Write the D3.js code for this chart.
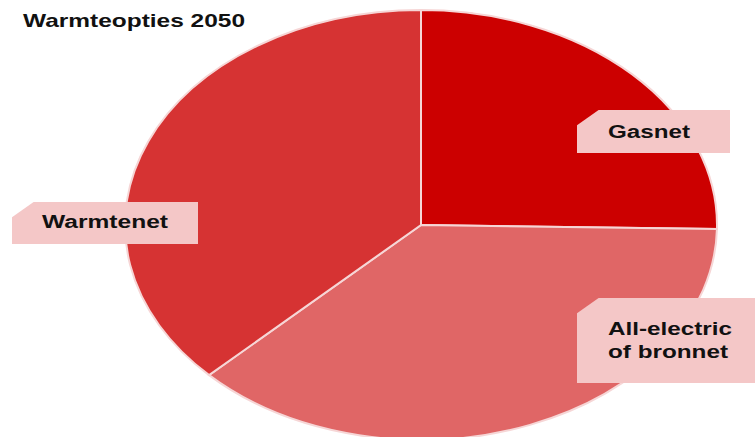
<!DOCTYPE html>
<html>
<head>
<meta charset="utf-8">
<script src="https://cdn.jsdelivr.net/npm/d3@7"></script>
<style>
  body { margin: 0; background: #fff; }
  text { font-family: "Liberation Sans", Arial, sans-serif; font-weight: bold; fill: #111; }
</style>
</head>
<body>
<div id="chart"></div>
<script>
// data
const categories = ["Gasnet", "All-electric of bronnet", "Warmtenet"];
const values = [25.3, 37.4, 37.3];
const colors = ["#cc0000", "#e06666", "#d63333"];
const labelLines = [["Gasnet"], ["All-electric", "of bronnet"], ["Warmtenet"]];

// layout
const width = 755, height = 437;
const cx = 421, cy = 225, rx = 296, ry = 215;

const svg = d3.select("#chart").append("svg")
  .attr("width", width).attr("height", height);

// title
svg.append("text")
  .attr("x", 23).attr("y", 27)
  .attr("font-size", 18.5)
  .attr("textLength", 222).attr("lengthAdjust", "spacingAndGlyphs")
  .text("Warmteopties 2050");

const pie = d3.pie().sort(null).value((d) => d);
const arc = d3.arc().innerRadius(0).outerRadius(rx);

const g = svg.append("g")
  .attr("transform", `translate(${cx},${cy}) scale(1,${ry / rx})`);

g.selectAll("path")
  .data(pie(values))
  .join("path")
  .attr("d", arc)
  .attr("fill", (d, i) => colors[i])
  .attr("stroke", "#f6d6d6")
  .attr("stroke-width", 2)
  .attr("vector-effect", "non-scaling-stroke");

// label boxes (x, y, w, h, text widths)
const boxes = [
  { x: 577, y: 110, w: 153, h: 43, tx: 608, ty: [138], tw: [82] },
  { x: 577, y: 298, w: 180, h: 85, tx: 608, ty: [335, 358], tw: [124, 120] },
  { x: 12, y: 202, w: 186, h: 42, tx: 42, ty: [228], tw: [126] }
];
const cut = 18;

const lab = svg.selectAll("g.lab")
  .data(boxes)
  .join("g").attr("class", "lab");

lab.append("path")
  .attr("d", (b) => `M${b.x},${b.y + cut * 0.85}L${b.x + cut * 1.2},${b.y}H${b.x + b.w}V${b.y + b.h}H${b.x}Z`)
  .attr("fill", "#f4c7c7");

lab.each(function (b, i) {
  labelLines[i].forEach((line, j) => {
    d3.select(this).append("text")
      .attr("x", b.tx).attr("y", b.ty[j])
      .attr("font-size", 17.5)
      .attr("textLength", b.tw[j]).attr("lengthAdjust", "spacingAndGlyphs")
      .text(line);
  });
});
</script>
</body>
</html>
